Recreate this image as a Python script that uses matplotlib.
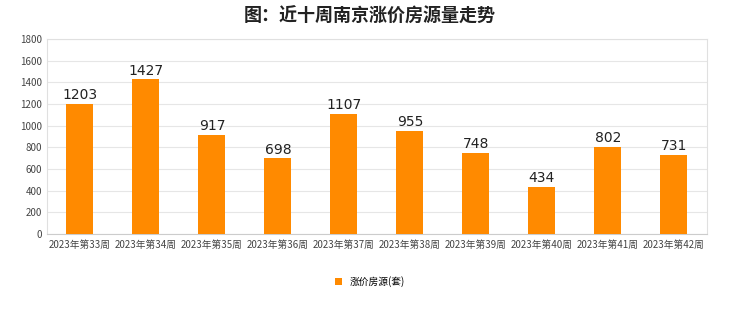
import matplotlib.pyplot as plt
import numpy as np

plt.rcParams['font.family'] = ['Noto Sans CJK SC', 'DejaVu Sans']

weeks = ['2023年第33周', '2023年第34周', '2023年第35周', '2023年第36周', '2023年第37周',
         '2023年第38周', '2023年第39周', '2023年第40周', '2023年第41周', '2023年第42周']
counts = [1203, 1427, 917, 698, 1107, 955, 748, 434, 802, 731]
yticks = [0, 200, 400, 600, 800, 1000, 1200, 1400, 1600, 1800]

fig = plt.figure(figsize=(7.4, 3.12), dpi=100)
ax = fig.add_axes([0.0635, 0.25, 0.8915, 0.625])

x = np.arange(len(weeks))
bars = ax.bar(x, counts, width=0.41, color='#ff8a00', label='涨价房源(套)', zorder=3)
for xi, v in zip(x, counts):
    ax.text(xi, v + 15, str(v), ha='center', va='bottom', fontsize=10,
            family='DejaVu Sans', color='#222222', zorder=4)

ax.set_xlim(-0.5, len(weeks) - 0.5)
ax.set_ylim(0, 1800)
ax.set_yticks(yticks)
ax.set_xticks(x)
ax.set_xticklabels(weeks)
ax.tick_params(axis='both', length=0, labelsize=7, colors='#444444')
ax.tick_params(axis='x', pad=4)
ax.grid(axis='y', color='#e6e6e6', linewidth=0.8, zorder=0)
for s in ax.spines.values():
    s.set_color('#e0e0e0')
    s.set_linewidth(0.8)
ax.spines['bottom'].set_color('#cccccc')

fig.suptitle('图：近十周南京涨价房源量走势', y=0.98, fontsize=13, fontweight='bold',
             color='#222222')

fig.legend(handles=[bars], loc='center', bbox_to_anchor=(0.5, 0.098), frameon=False,
           fontsize=7, handlelength=0.7, handleheight=0.7, handletextpad=0.8)

fig.savefig('out.png', dpi=100, facecolor='white')
